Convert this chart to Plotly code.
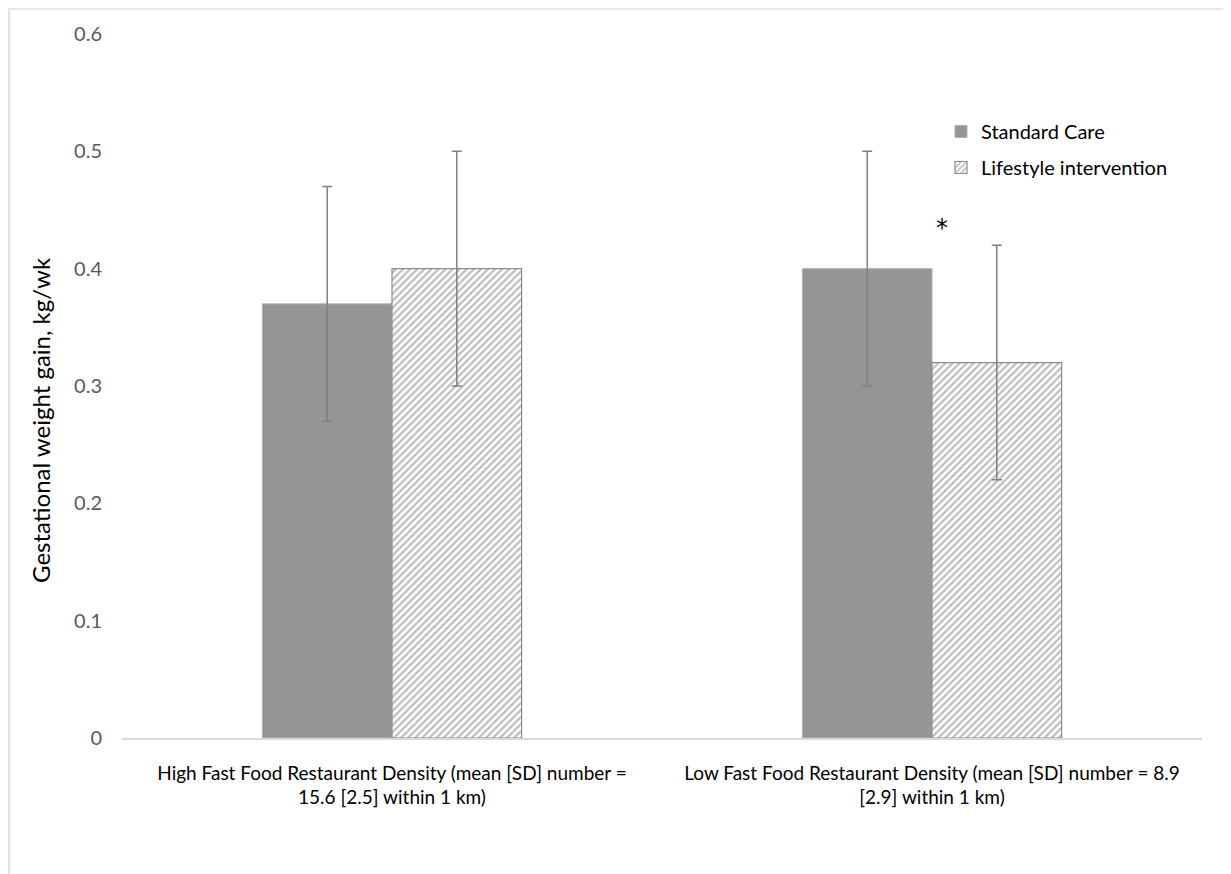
import plotly.graph_objects as go

categories = [
    "High Fast Food Restaurant Density (mean [SD] number =<br>15.6 [2.5] within 1 km)",
    "Low Fast Food Restaurant Density (mean [SD] number = 8.9<br>[2.9] within 1 km)",
]
standard_care = [0.37, 0.40]
standard_care_err = [0.10, 0.10]
lifestyle = [0.40, 0.32]
lifestyle_err = [0.10, 0.10]
y_ticks = [0, 0.1, 0.2, 0.3, 0.4, 0.5, 0.6]
y_tick_labels = ["0", "0.1", "0.2", "0.3", "0.4", "0.5", "0.6"]

FONT = "Lato"
OFF = 8  # page body margin
W, H = 1231, 874
# target screen pixels: plot x 122..1202, y 34..738
L, T = 122 - OFF, 34 - OFF
R = W - (1202 - OFF)
B = H - (738 - OFF)
pw, ph = W - L - R, H - T - B


def px_x(sx):
    return (sx - 122) / pw


def px_y(sy):
    return (738 - sy) / ph


fig = go.Figure()
fig.add_trace(go.Bar(
    name="Standard Care", x=categories, y=standard_care, legendgroup="a",
    marker=dict(color="#959595", line=dict(color="#b0b0b0", width=1)),
    error_y=dict(type="data", array=standard_care_err, color="#7f7f7f",
                 thickness=1.5, width=5),
))
fig.add_trace(go.Bar(
    name="Lifestyle intervention", x=categories, y=lifestyle, legendgroup="b",
    marker=dict(color="white", line=dict(color="#8c8c8c", width=1.2),
                pattern=dict(shape="/", fgcolor="#7a7a7a", bgcolor="white",
                             size=5, solidity=0.45)),
    error_y=dict(type="data", array=lifestyle_err, color="#7f7f7f",
                 thickness=1.5, width=5),
))

# asterisk
fig.add_annotation(x=px_x(950), xref="paper", y=px_y(212), yref="paper",
                   text="*", showarrow=False,
                   font=dict(family="DejaVu Sans", size=24, color="black"))

# y axis title
fig.add_annotation(x=px_x(40), xref="paper", y=px_y(420), yref="paper",
                   text="Gestational weight gain, kg/wk", textangle=-90,
                   showarrow=False, xanchor="center", yanchor="middle",
                   font=dict(family=FONT, size=24, color="black"))

# chart border
fig.add_shape(type="rect", xref="paper", yref="paper",
              x0=px_x(9), x1=px_x(1228), y0=px_y(900), y1=px_y(9),
              line=dict(color="#d0d0d0", width=1.2), fillcolor="rgba(0,0,0,0)",
              layer="above")

fig.update_layout(
    width=W, height=H,
    margin=dict(l=L, r=R, t=T, b=B),
    paper_bgcolor="white", plot_bgcolor="white",
    barmode="group", bargap=0.52, bargroupgap=0,
    font=dict(family=FONT, color="black"),
    showlegend=True,
    legend=dict(x=px_x(941), y=px_y(112), xanchor="left", yanchor="top",
                font=dict(family=FONT, size=20, color="black"),
                bgcolor="rgba(0,0,0,0)", itemwidth=30, tracegroupgap=7),
    xaxis=dict(showline=True, linecolor="#d9d9d9", linewidth=1.5,
               ticks="", tickfont=dict(family=FONT, size=19, color="black"),
               ticklabelstandoff=17,
               showgrid=False, zeroline=False),
    yaxis=dict(range=[0, 0.6], tickvals=y_ticks, ticktext=y_tick_labels,
               showgrid=False, zeroline=False, showline=False,
               tickfont=dict(family=FONT, size=20, color="#595959"),
               ticklabelstandoff=19),
)

fig.write_html("out.html")
